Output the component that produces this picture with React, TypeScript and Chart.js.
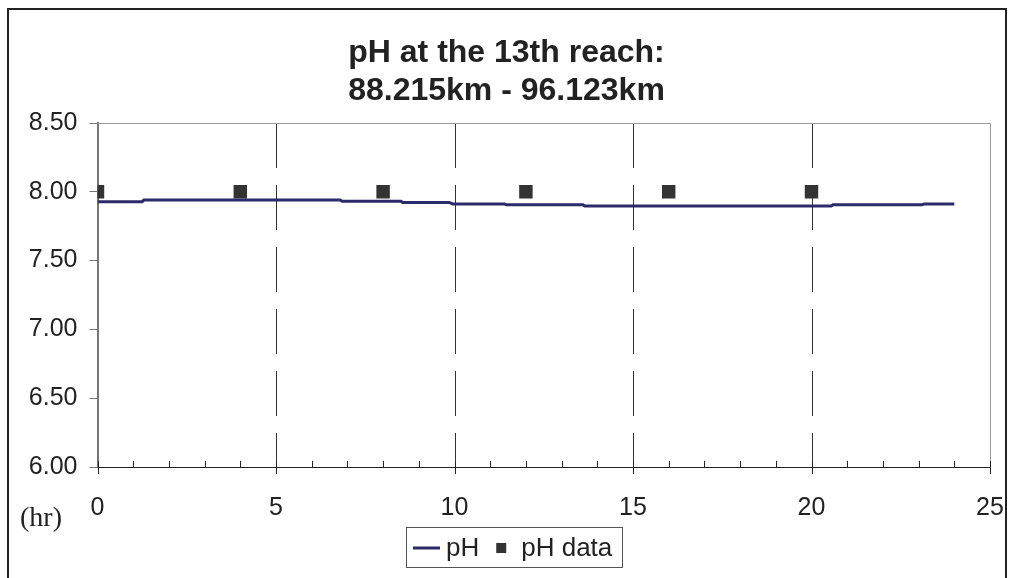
import React, { useEffect, useRef } from 'react';
import { Chart, registerables } from 'chart.js';

Chart.register(...registerables);

const TITLE_LINES = ['pH at the 13th reach:', '88.215km - 96.123km'];
const SERIES_LABELS = ['pH', 'pH data'];
const X_UNIT = '(hr)';

const MODEL_HOURS = [0, 1.25, 1.3, 6.8, 6.85, 8.5, 8.55, 9.85, 9.95, 11.4, 11.45, 13.6, 13.65, 20.55, 20.6, 23.1, 23.15, 24];
const MODEL_PH = [7.928, 7.928, 7.94, 7.94, 7.932, 7.932, 7.923, 7.923, 7.912, 7.912, 7.905, 7.905, 7.897, 7.897, 7.905, 7.905, 7.912, 7.912];

const DATA_HOURS = [0, 4, 8, 12, 16, 20];
const DATA_PH = [8.0, 8.0, 8.0, 8.0, 8.0, 8.0];

const X_MIN = 0;
const X_MAX = 25;
const X_STEP = 5;
const X_MINOR_STEP = 1;
const Y_MIN = 6;
const Y_MAX = 8.5;
const Y_STEP = 0.5;

const W = 1014;
const H = 578;
const SANS = '"Liberation Sans", Arial, Helvetica, sans-serif';
const SERIF = '"Liberation Serif", "Times New Roman", Times, serif';
const LINE_COLOR = '#2b2b6b';
const MARK_COLOR = '#333333';

const decor = {
  id: 'decor',
  beforeDraw(chart: any) {
    const { ctx } = chart;
    ctx.save();
    ctx.fillStyle = '#ffffff';
    ctx.fillRect(0, 0, chart.width, chart.height);
    ctx.restore();
  },
  beforeDatasetsDraw(chart: any) {
    const { ctx, chartArea: a, scales } = chart;
    const x = scales.x;
    ctx.save();
    ctx.strokeStyle = '#333333';
    ctx.lineWidth = 1;
    ctx.setLineDash([45, 17]);
    for (let v = X_MIN + X_STEP; v < X_MAX; v += X_STEP) {
      const px = Math.round(x.getPixelForValue(v)) + 0.5;
      ctx.beginPath();
      ctx.moveTo(px, a.top);
      ctx.lineTo(px, a.bottom);
      ctx.stroke();
    }
    ctx.setLineDash([]);
    ctx.strokeStyle = '#9a9a9a';
    ctx.beginPath();
    ctx.moveTo(a.left, Math.round(a.top) + 0.5);
    ctx.lineTo(Math.round(a.right) + 0.5, Math.round(a.top) + 0.5);
    ctx.lineTo(Math.round(a.right) + 0.5, a.bottom);
    ctx.stroke();
    ctx.strokeStyle = '#222222';
    for (let v = X_MIN; v <= X_MAX; v += X_MINOR_STEP) {
      const px = Math.round(x.getPixelForValue(v)) + 0.5;
      const major = v % X_STEP === 0;
      ctx.beginPath();
      ctx.moveTo(px, a.bottom - 6);
      ctx.lineTo(px, a.bottom + (major ? 7 : 0));
      ctx.stroke();
    }
    ctx.restore();
  },
  afterDraw(chart: any) {
    const { ctx } = chart;
    ctx.save();
    ctx.fillStyle = '#222222';
    ctx.font = `bold 32px ${SANS}`;
    ctx.textAlign = 'center';
    ctx.textBaseline = 'middle';
    ctx.fillText(TITLE_LINES[0], 506.5, 53);
    ctx.fillText(TITLE_LINES[1], 506.5, 91);
    ctx.font = `28px ${SERIF}`;
    ctx.textAlign = 'left';
    ctx.fillText(X_UNIT, 20, 519);
    ctx.font = `26px ${SANS}`;
    const boxL = 406.5;
    const boxT = 527.5;
    const boxB = 567.5;
    const cy = 548;
    let cx = boxL + 6.5;
    ctx.strokeStyle = LINE_COLOR;
    ctx.lineWidth = 3;
    ctx.beginPath();
    ctx.moveTo(cx, cy);
    ctx.lineTo(cx + 27, cy);
    ctx.stroke();
    cx += 33;
    ctx.fillStyle = '#222222';
    ctx.fillText(SERIES_LABELS[0], cx, cy + 1);
    cx += ctx.measureText(SERIES_LABELS[0]).width + 17;
    ctx.fillStyle = MARK_COLOR;
    ctx.fillRect(cx, cy - 5, 10, 10);
    cx += 25;
    ctx.fillStyle = '#222222';
    ctx.fillText(SERIES_LABELS[1], cx, cy + 1);
    cx += ctx.measureText(SERIES_LABELS[1]).width + 10;
    ctx.strokeStyle = '#555555';
    ctx.lineWidth = 1;
    ctx.strokeRect(boxL, boxT, Math.round(cx - boxL), boxB - boxT);
    ctx.strokeStyle = '#222222';
    ctx.lineWidth = 2;
    ctx.strokeRect(8, 9, 998, H + 20);
    ctx.restore();
  },
};

export default function App() {
  const ref = useRef<HTMLCanvasElement | null>(null);

  useEffect(() => {
    if (!ref.current) return;
    const chart = new Chart(ref.current, {
      type: 'scatter',
      data: {
        datasets: [
          {
            label: SERIES_LABELS[0],
            data: MODEL_HOURS.map((t, i) => ({ x: t, y: MODEL_PH[i] })),
            showLine: true,
            borderColor: LINE_COLOR,
            backgroundColor: LINE_COLOR,
            borderWidth: 3,
            pointRadius: 0,
            tension: 0,
          },
          {
            label: SERIES_LABELS[1],
            data: DATA_HOURS.map((t, i) => ({ x: t, y: DATA_PH[i] })),
            showLine: false,
            pointStyle: 'rect',
            pointRadius: 9.5,
            pointBorderWidth: 0,
            backgroundColor: MARK_COLOR,
            borderColor: MARK_COLOR,
          },
        ],
      },
      options: {
        animation: false,
        responsive: false,
        devicePixelRatio: 1,
        layout: { padding: { left: 0, right: 24, top: 123, bottom: 0 } },
        plugins: {
          legend: { display: false },
          title: { display: false },
          tooltip: { enabled: false },
        },
        scales: {
          x: {
            type: 'linear',
            min: X_MIN,
            max: X_MAX,
            afterFit: (s: any) => {
              s.height = 111;
              s.paddingLeft = 0;
              s.paddingRight = 0;
            },
            ticks: {
              stepSize: X_STEP,
              color: '#222222',
              font: { family: SANS, size: 25 },
              padding: 26,
              maxRotation: 0,
            },
            grid: { display: false, drawTicks: false },
            border: { display: true, color: '#222222', width: 1 },
          },
          y: {
            type: 'linear',
            min: Y_MIN,
            max: Y_MAX,
            afterFit: (s: any) => {
              s.width = 97.5;
              s.paddingTop = 0;
              s.paddingBottom = 0;
            },
            ticks: {
              stepSize: Y_STEP,
              color: '#222222',
              font: { family: SANS, size: 25 },
              padding: 12,
              callback: (v: any) => Number(v).toFixed(2),
            },
            grid: { display: true, drawOnChartArea: false, drawTicks: true, tickLength: 8, color: '#777777' },
            border: { display: true, color: '#777777', width: 2 },
          },
        },
      },
      plugins: [decor],
    });
    return () => chart.destroy();
  }, []);

  return (
    <div style={{ position: 'fixed', left: 0, top: 0, width: W, height: H }}>
      <canvas ref={ref} width={W} height={H} style={{ display: 'block' }} />
    </div>
  );
}
